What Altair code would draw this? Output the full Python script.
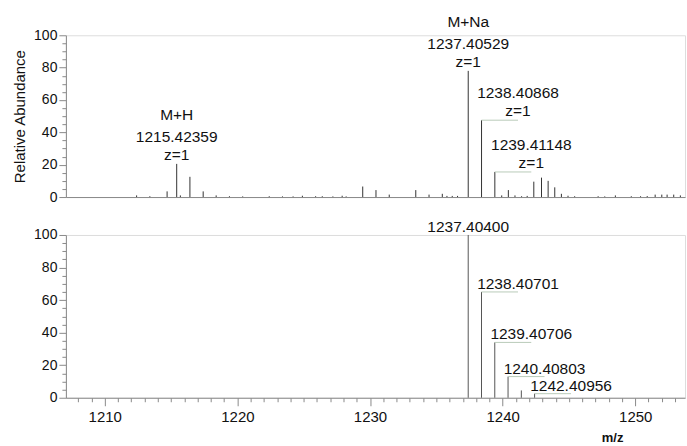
import altair as alt
import pandas as pd

FONT = "Liberation Sans"

# ---- Measured spectrum (top): unannotated peaks ----
top_mz = [1212.40, 1213.40, 1214.70, 1215.70, 1216.42, 1217.42, 1218.40, 1219.40,
          1220.40, 1222.40, 1223.40, 1224.20, 1224.90, 1225.90, 1226.40, 1227.20,
          1227.90, 1228.20, 1229.45, 1230.45, 1231.45, 1233.45, 1234.45, 1235.45,
          1235.80, 1236.20, 1236.60, 1239.93, 1240.43, 1240.93, 1241.43, 1241.85,
          1242.35, 1242.93, 1243.43, 1243.93, 1244.43, 1244.93, 1245.43, 1247.20,
          1247.70, 1248.50, 1249.70, 1250.40, 1250.90, 1251.50, 1252.00, 1252.40,
          1252.90, 1253.40]
top_ab = [1.0, 0.5, 3.5, 1.0, 12.5, 3.5, 1.0, 0.5,
          0.4, 0.5, 0.4, 0.4, 0.8, 0.5, 0.5, 0.4,
          0.8, 0.4, 6.5, 4.3, 1.5, 4.3, 1.5, 2.0,
          0.7, 0.7, 0.7, 1.0, 4.3, 1.0, 0.5, 0.7,
          9.5, 12.0, 10.0, 6.0, 2.0, 0.8, 0.5, 0.5,
          0.4, 1.0, 0.5, 0.5, 0.6, 1.5, 1.5, 1.5,
          1.5, 1.0]

# ---- Measured spectrum (top): annotated peaks ----
top_lab_mz = [1215.42359, 1237.40529, 1238.40868, 1239.41148]
top_lab_ab = [20.5, 78.0, 47.5, 15.5]
top_lab_ion = ["M+H", "M+Na", "", ""]
top_lab_z = ["z=1", "z=1", "z=1", "z=1"]
top_lab_side = [False, False, True, True]

# ---- Simulated isotope pattern (bottom) ----
bot_mz = [1241.41]
bot_ab = [4.5]
bot_lab_mz = [1237.40400, 1238.40701, 1239.40706, 1240.40803, 1242.40956]
bot_lab_ab = [100.0, 65.0, 34.0, 13.0, 2.5]
bot_lab_side = [False, True, True, True, True]

X_DOMAIN = [1207.07, 1253.75]
SIDE_SHIFT = 2.75  # m/z offset of labels set beside their peak

x_ticks = list(range(1208, 1254))
y_ticks = list(range(0, 101, 5))


def label_table(mz, ab, side, **cols):
    df = pd.DataFrame({"mz": mz, "ab": ab, "side": side, **cols})
    df["mass"] = [f"{v:.5f}" for v in df["mz"]]
    df["lx"] = df["mz"] + df["side"].astype(float) * SIDE_SHIFT
    return df


top_peaks = pd.DataFrame({"mz": top_mz + top_lab_mz, "ab": top_ab + top_lab_ab})
top_labels = label_table(top_lab_mz, top_lab_ab, top_lab_side,
                         ion=top_lab_ion, z=top_lab_z)
bot_peaks = pd.DataFrame({"mz": bot_mz + bot_lab_mz, "ab": bot_ab + bot_lab_ab})
bot_labels = label_table(bot_lab_mz, bot_lab_ab, bot_lab_side)

x_scale = alt.Scale(domain=X_DOMAIN, nice=False, zero=False)
y_scale = alt.Scale(domain=[0, 100], nice=False)

y_axis_common = dict(
    values=y_ticks, tickCount=200, format="d",
    labelExpr="datum.value % 20 === 0 ? datum.label : ''",
    tickSize={"condition": {"test": "datum.value % 20 === 0", "value": 7}, "value": 4},
    labelFontSize=14, labelPadding=2, labelOverlap=False,
    grid=False, domainColor="#8a8a8a", tickColor="#8a8a8a", labelColor="#111",
    labelFont=FONT,
)


def peaks_layer(df, color, x_axis, y_axis):
    return alt.Chart(df).mark_rule(color=color, strokeWidth=1).encode(
        x=alt.X("mz:Q", scale=x_scale, axis=x_axis),
        y=alt.Y("ab:Q", scale=y_scale, axis=y_axis),
        y2=alt.datum(0),
    )


def leader_layer(df):
    return alt.Chart(df).transform_filter("datum.side").mark_rule(
        color="#b9cbb9", strokeWidth=1
    ).encode(x="mz:Q", x2="lx:Q", y="ab:Q")


def text_layer(df, field, dy):
    return alt.Chart(df).transform_filter(f"datum.{field} !== ''").mark_text(
        font=FONT, fontSize=15.5, color="#111", baseline="middle", align="center", dy=dy
    ).encode(x="lx:Q", y="ab:Q", text=f"{field}:N")


top_x_axis = alt.Axis(title=None, labels=False, ticks=False, grid=False,
                      domainColor="#8a8a8a")
top_y_axis = alt.Axis(title="Relative Abundance", titleFont=FONT, titleFontSize=15,
                      titleFontWeight="normal", titleColor="#111", titlePadding=6,
                      **y_axis_common)

top = alt.layer(
    peaks_layer(top_peaks, "#333333", top_x_axis, top_y_axis),
    leader_layer(top_labels),
    text_layer(top_labels, "z", -9),
    text_layer(top_labels, "mass", -27),
    text_layer(top_labels, "ion", -49),
).properties(width=620, height=162)

bot_x_axis = alt.Axis(
    title="m/z", titleFont=FONT, titleFontSize=13, titleFontWeight="bold",
    titleColor="#111", titleX=547, titleY=44, titleAlign="center",
    titleBaseline="alphabetic",
    values=x_ticks, tickCount=200, format="d",
    labelExpr="datum.value % 10 === 0 ? datum.label : ''",
    tickSize={"condition": {"test": "datum.value % 10 === 0", "value": 8}, "value": 4},
    labelFontSize=15, labelFont=FONT, labelColor="#111", labelPadding=4,
    labelOverlap=False, labelFlush=False, grid=False,
    domainColor="#8a8a8a", tickColor="#8a8a8a",
)
bot_y_axis = alt.Axis(title=None, **y_axis_common)

bottom = alt.layer(
    peaks_layer(bot_peaks, "#555555", bot_x_axis, bot_y_axis),
    leader_layer(bot_labels),
    text_layer(bot_labels, "mass", -8),
).properties(width=620, height=163)

chart = alt.vconcat(top, bottom, spacing=38, bounds="flush").properties(
    padding={"left": 12, "top": 14, "right": 1, "bottom": 2}
).configure_view(stroke=None).configure(font=FONT, background="white")

chart.save("out.html", embed_options={"renderer": "svg", "actions": False})
